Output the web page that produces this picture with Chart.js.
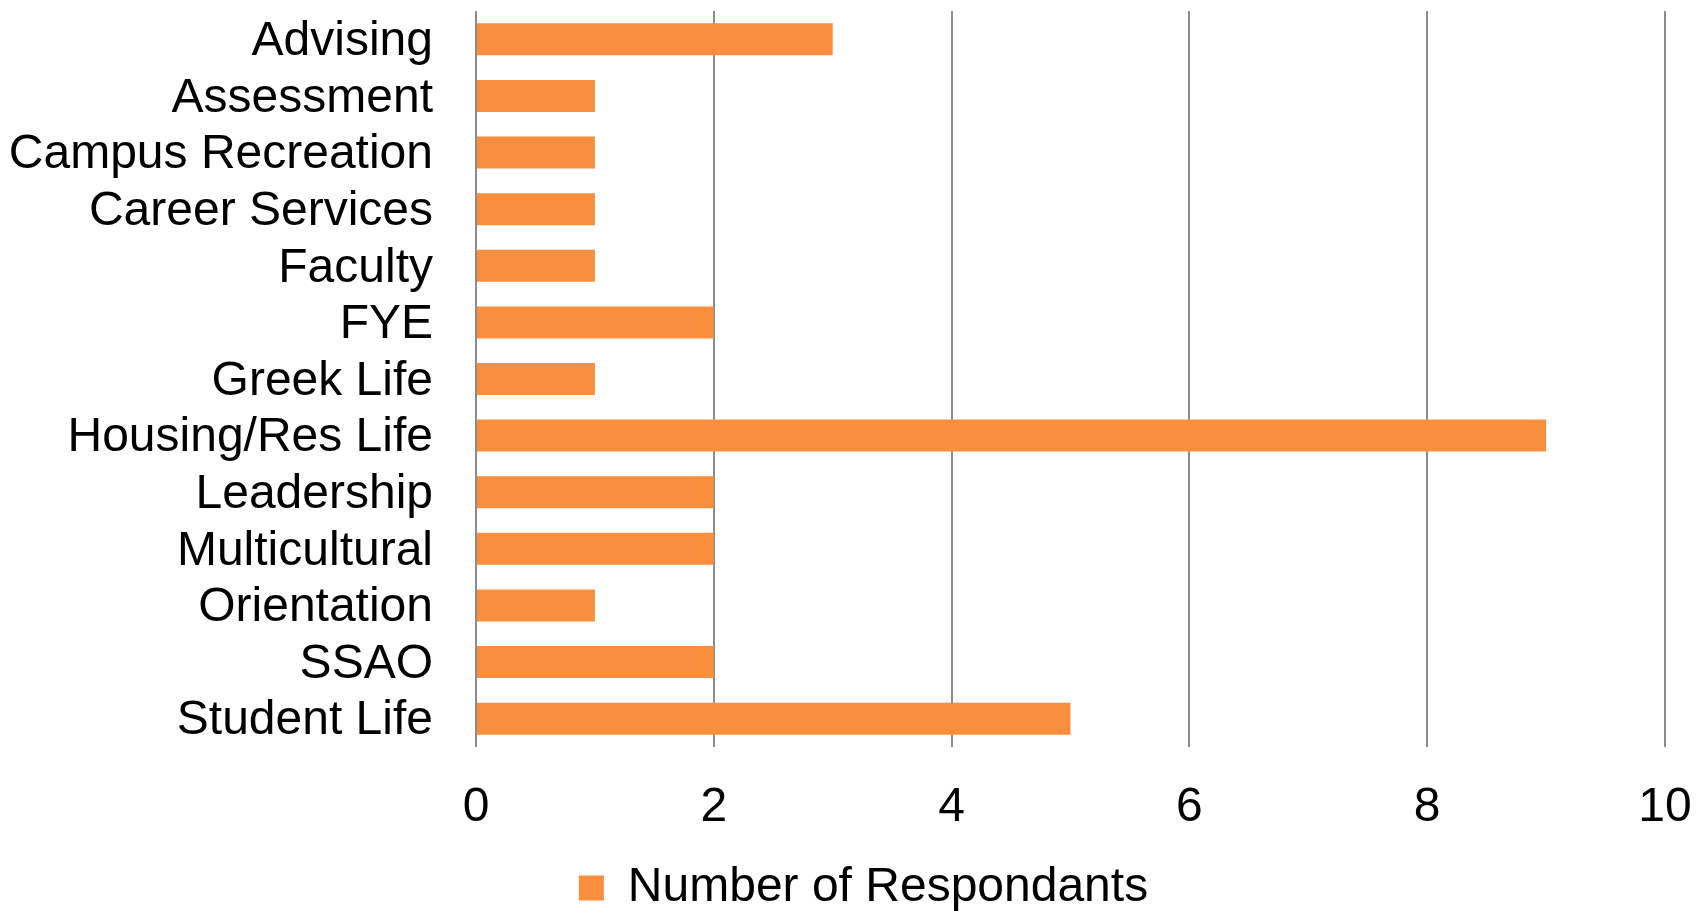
<!DOCTYPE html>
<html>
<head>
<meta charset="utf-8">
<script src="https://cdn.jsdelivr.net/npm/chart.js@4"></script>
<style>
  html, body { margin: 0; padding: 0; background: #ffffff; }
  #wrap { width: 1696px; height: 911px; position: relative; }
</style>
</head>
<body>
<div id="wrap"><canvas id="c" width="1696" height="911"></canvas></div>
<script>
const categories = ["Advising", "Assessment", "Campus Recreation", "Career Services", "Faculty", "FYE", "Greek Life", "Housing/Res Life", "Leadership", "Multicultural", "Orientation", "SSAO", "Student Life"];
const respondents = [3, 1, 1, 1, 1, 2, 1, 9, 2, 2, 1, 2, 5];
const seriesName = "Number of Respondants";
const xTicks = [0, 2, 4, 6, 8, 10];

const FONT = "'Liberation Sans', Arial, sans-serif";

const legendShift = {
  id: 'legendShift',
  afterLayout(chart) {
    const lg = chart.legend;
    if (!lg) return;
    lg.left += 31; lg.right += 31;
    lg.top += 11; lg.bottom += 11;
  }
};

new Chart(document.getElementById('c'), {
  type: 'bar',
  data: {
    labels: categories,
    datasets: [{
      label: seriesName,
      data: respondents,
      backgroundColor: '#F98E3F',
      borderWidth: 0,
      barPercentage: 0.565,
      categoryPercentage: 1.0
    }]
  },
  plugins: [legendShift],
  options: {
    indexAxis: 'y',
    responsive: false,
    animation: false,
    devicePixelRatio: 1,
    layout: { padding: { top: 11, right: 31, bottom: 0, left: 0 } },
    plugins: {
      legend: {
        display: true,
        position: 'bottom',
        labels: {
          boxWidth: 25,
          boxHeight: 25,
          padding: 10,
          color: '#000000',
          font: { family: FONT, size: 48 }
        }
      },
      tooltip: { enabled: false },
      title: { display: false }
    },
    scales: {
      x: {
        type: 'linear',
        min: 0,
        max: 10,
        afterBuildTicks(scale) { scale.ticks = xTicks.map(v => ({ value: v })); },
        afterFit(scale) { scale.height = 96; scale.paddingLeft = 0; scale.paddingRight = 0; },
        grid: { display: true, color: '#8c8c8c', lineWidth: 2, drawTicks: false },
        border: { display: false },
        ticks: {
          padding: 32,
          color: '#000000',
          font: { family: FONT, size: 48 }
        }
      },
      y: {
        type: 'category',
        afterFit(scale) { scale.width = 476; scale.paddingTop = 0; scale.paddingBottom = 0; },
        grid: { display: false, drawTicks: true, tickLength: 43 },
        border: { display: false },
        ticks: {
          padding: 0,
          labelOffset: 2.5,
          autoSkip: false,
          color: '#000000',
          font: { family: FONT, size: 48 }
        }
      }
    }
  }
});
</script>
</body>
</html>
